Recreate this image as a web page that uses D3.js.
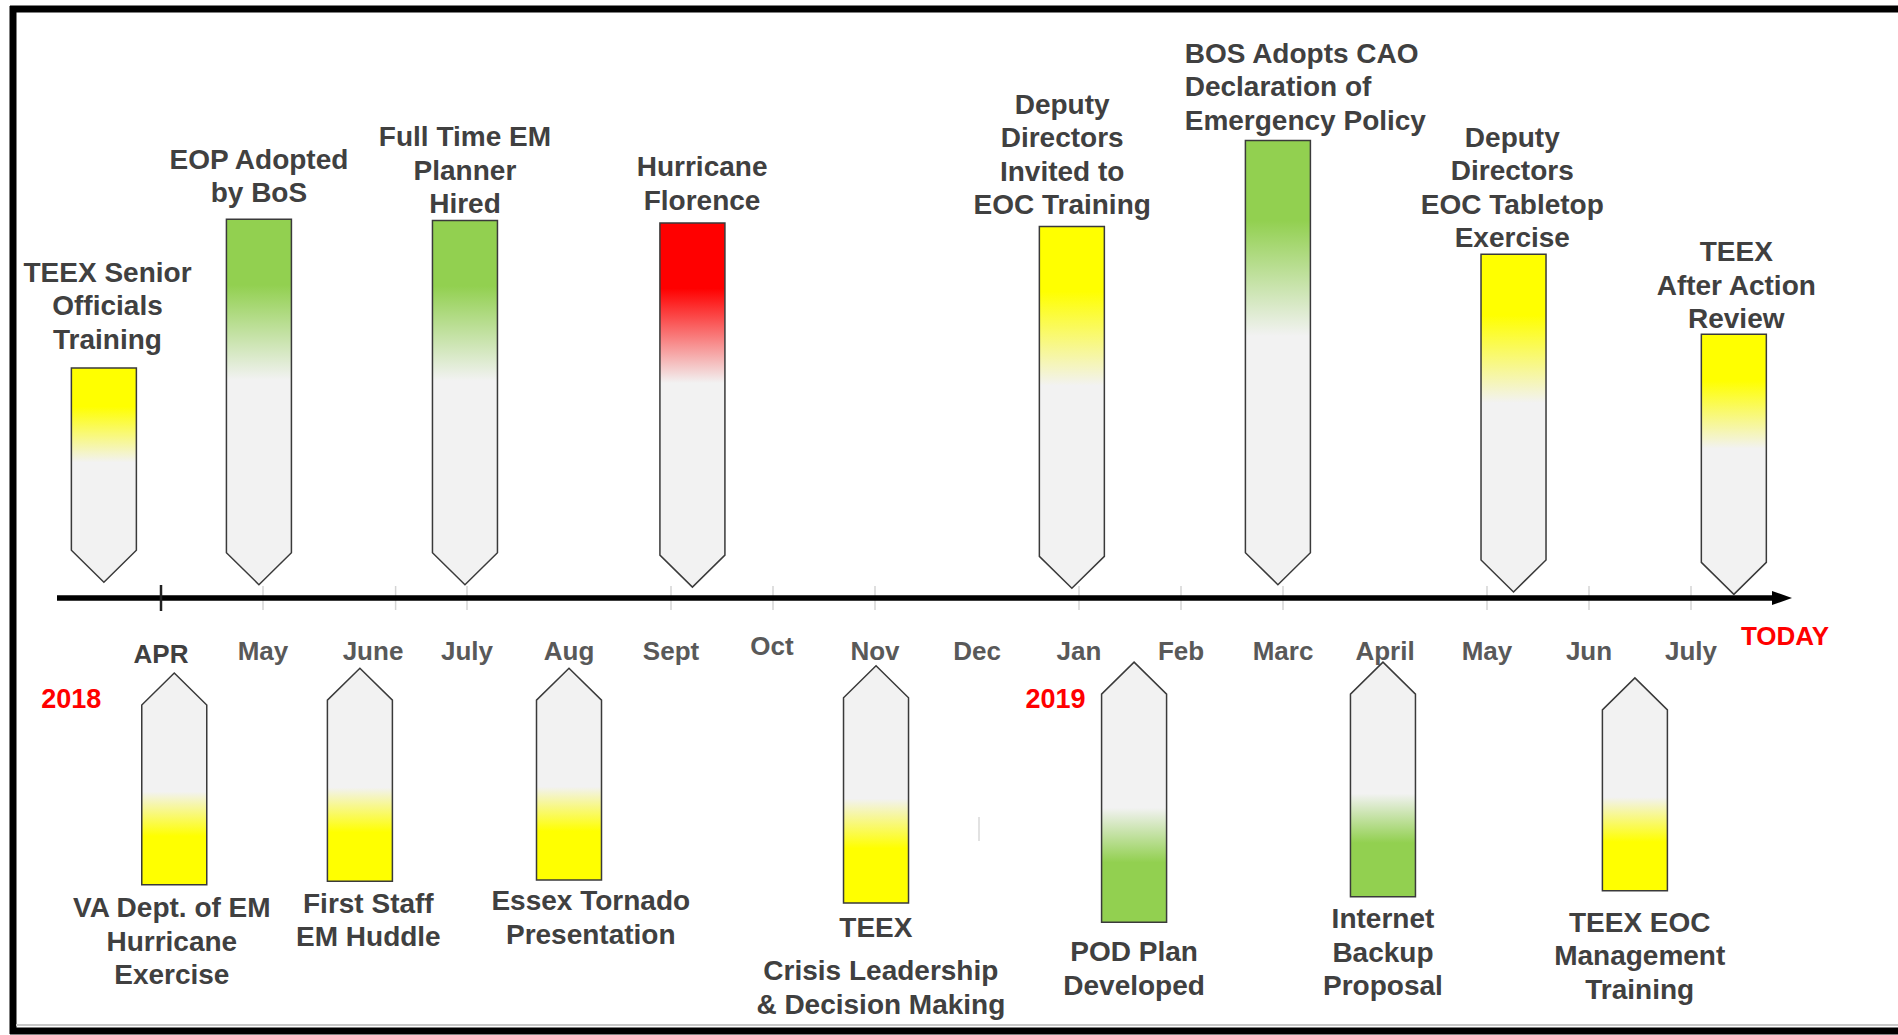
<!DOCTYPE html>
<html>
<head>
<meta charset="utf-8">
<script src="https://cdnjs.cloudflare.com/ajax/libs/d3/7.8.5/d3.min.js"></script>
<style>
	body { margin: 0; background: #fff; }
	text { font-family: "Liberation Sans", Arial, sans-serif; }
</style>
</head>
<body>
<div class="timeline"></div>
<script>
// month labels along the axis (index 0 = April 2018)
var months = ["APR", "May", "June", "July", "Aug", "Sept", "Oct", "Nov", "Dec",
	"Jan", "Feb", "Marc", "April", "May", "Jun", "July"];
var tickMonths = [1, 2.3, 3, 5, 6, 7, 9, 10, 11, 13, 14, 15];
var years = [{label: "2018", month: -0.88}, {label: "2019", month: 8.77}];

// events above the line
var upLabels = [
	["TEEX Senior", "Officials", "Training"],
	["EOP Adopted", "by BoS"],
	["Full Time EM", "Planner", "Hired"],
	["Hurricane", "Florence"],
	["Deputy", "Directors", "Invited to", "EOC Training"],
	["BOS Adopts CAO", "Declaration of", "Emergency Policy"],
	["Deputy", "Directors", "EOC Tabletop", "Exercise"],
	["TEEX", "After Action", "Review"]
];
var upMonth = [-0.56, 0.96, 2.98, 5.21, 8.93, 10.95, 13.26, 15.42];
var upNear = [13, 11, 11, 9, 8, 11, 5, 3];
var upFar = [190, 313, 312, 310, 307, 378, 284, 218];
var upColor = ["yellow", "green", "green", "red", "yellow", "green", "yellow", "yellow"];

// events below the line
var downLabels = [
	["VA Dept. of EM", "Hurricane", "Exercise"],
	["First Staff", "EM Huddle"],
	["Essex Tornado", "Presentation"],
	["TEEX", "Crisis Leadership", "& Decision Making"],
	["POD Plan", "Developed"],
	["Internet", "Backup", "Proposal"],
	["TEEX EOC", "Management", "Training"]
];
var downMonth = [0.13, 1.95, 4.0, 7.01, 9.54, 11.98, 14.45];
var downNear = [62, 58, 58, 56, 53, 53, 66];
var downFar = [237, 234, 233, 252, 268, 247, 242];
var downColor = ["yellow", "yellow", "yellow", "yellow", "green", "green", "yellow"];

// layout tweaks for the labels (dx, gap to box) in picture units
var upLabelPos = [[3, 16], [0, 14], [0, 6], [8, 11], [-8, 10], [-77, 9], [-1, 6], [2, 5]];
var downLabelPos = [[-2, 27], [7, 26], [18, 25], [4, 28], [0, 32], [0, 26], [4, 34]];
var monthShift = {2: 8, 6: -1};

var width = 1898,
	height = 1035,
	k = 1.21,
	axisY = 598,
	boxW = 65,
	notch = 32,
	lineH = 33.5;

var palette = {yellow: "#ffff00", green: "#92d050", red: "#ff0000"};

var x = d3.scaleLinear().domain([0, 15]).range([161, 1691]);
var dist = d3.scaleLinear().domain([0, 100]).range([0, 100 * k]);

var svg = d3.select(".timeline").append("svg")
	.attr("width", width)
	.attr("height", height);

// gradients, one for each colour and direction
var defs = svg.append("defs");
Object.keys(palette).forEach(function(c) {
	var gUp = defs.append("linearGradient")
		.attr("id", "up-" + c)
		.attr("x1", 0).attr("y1", 0).attr("x2", 0).attr("y2", 1);
	gUp.append("stop").attr("offset", 0).attr("stop-color", palette[c]);
	gUp.append("stop").attr("offset", 0.18).attr("stop-color", palette[c]);
	gUp.append("stop").attr("offset", 0.44).attr("stop-color", "#f2f2f2");
	gUp.append("stop").attr("offset", 1).attr("stop-color", "#f2f2f2");

	var gDown = defs.append("linearGradient")
		.attr("id", "down-" + c)
		.attr("x1", 0).attr("y1", 0).attr("x2", 0).attr("y2", 1);
	gDown.append("stop").attr("offset", 0).attr("stop-color", "#f2f2f2");
	gDown.append("stop").attr("offset", 0.56).attr("stop-color", "#f2f2f2");
	gDown.append("stop").attr("offset", 0.77).attr("stop-color", palette[c]);
	gDown.append("stop").attr("offset", 1).attr("stop-color", palette[c]);
});

// frame
svg.append("line")
	.attr("x1", 13).attr("x2", 13).attr("y1", 6).attr("y2", 1034)
	.attr("stroke", "#000").attr("stroke-width", 7);
svg.append("line")
	.attr("x1", 10).attr("x2", width).attr("y1", 9).attr("y2", 9)
	.attr("stroke", "#000").attr("stroke-width", 7);
svg.append("line")
	.attr("x1", 16).attr("x2", width).attr("y1", 1025).attr("y2", 1025)
	.attr("stroke", "#c8c8c8").attr("stroke-width", 2);
svg.append("line")
	.attr("x1", 10).attr("x2", width).attr("y1", 1031).attr("y2", 1031)
	.attr("stroke", "#000").attr("stroke-width", 7);

// light month ticks
svg.selectAll(".tick")
	.data(tickMonths).enter()
	.append("line")
	.attr("class", "tick")
	.attr("x1", function(d) { return x(d); })
	.attr("x2", function(d) { return x(d); })
	.attr("y1", axisY - 12)
	.attr("y2", axisY + 12)
	.attr("stroke", "#d4d4d4")
	.attr("stroke-width", 1.5);

// main axis with arrow
svg.append("line")
	.attr("x1", 57).attr("x2", 1775)
	.attr("y1", axisY).attr("y2", axisY)
	.attr("stroke", "#000").attr("stroke-width", 5.5);
svg.append("path")
	.attr("d", "M1772," + (axisY - 7) + "L1792," + axisY + "L1772," + (axisY + 7) + "Z")
	.attr("fill", "#000");

// dark April tick
svg.append("line")
	.attr("x1", x(0)).attr("x2", x(0))
	.attr("y1", axisY - 13).attr("y2", axisY + 13)
	.attr("stroke", "#222").attr("stroke-width", 2.5);

// stray mark near Dec
svg.append("line")
	.attr("x1", 979).attr("x2", 979).attr("y1", 817).attr("y2", 841)
	.attr("stroke", "#d9d9d9").attr("stroke-width", 1.5);

// month labels
svg.selectAll(".month")
	.data(months).enter()
	.append("text")
	.attr("class", "month")
	.attr("x", function(d, i) { return x(i) + (monthShift[i] || 0); })
	.attr("y", function(d, i) { return i == 0 ? 663 : (i == 6 ? 655 : 660); })
	.attr("text-anchor", "middle")
	.attr("font-size", 26)
	.attr("font-weight", "bold")
	.attr("fill", function(d, i) { return i == 0 ? "#404040" : "#595959"; })
	.text(function(d) { return d; });

svg.append("text")
	.attr("x", 1785).attr("y", 645)
	.attr("text-anchor", "middle")
	.attr("font-size", 26)
	.attr("font-weight", "bold")
	.attr("fill", "#ff0000")
	.text("TODAY");

svg.selectAll(".year")
	.data(years).enter()
	.append("text")
	.attr("class", "year")
	.attr("x", function(d) { return x(d.month); })
	.attr("y", 708)
	.attr("text-anchor", "middle")
	.attr("font-size", 27)
	.attr("font-weight", "bold")
	.attr("fill", "#ff0000")
	.text(function(d) { return d.label; });

// callouts above the line (point down)
upMonth.forEach(function(m, i) {
	var cx = x(m),
		tip = axisY - dist(upNear[i]),
		top = axisY - dist(upFar[i]),
		w = boxW / 2;

	svg.append("path")
		.attr("d", "M" + (cx - w) + "," + top + "L" + (cx + w) + "," + top +
			"L" + (cx + w) + "," + (tip - notch) + "L" + cx + "," + tip +
			"L" + (cx - w) + "," + (tip - notch) + "Z")
		.attr("fill", "url(#up-" + upColor[i] + ")")
		.attr("stroke", "#3a3a3a")
		.attr("stroke-width", 1.5);

	var lines = upLabels[i],
		lx = cx + upLabelPos[i][0] * k,
		last = top - upLabelPos[i][1] * k;

	svg.append("g").selectAll("text")
		.data(lines).enter()
		.append("text")
		.attr("x", lx)
		.attr("y", function(d, j) { return last - (lines.length - 1 - j) * lineH; })
		.attr("text-anchor", i == 5 ? "start" : "middle")
		.attr("font-size", 28)
		.attr("font-weight", "bold")
		.attr("fill", "#404040")
		.text(function(d) { return d; });
});

// callouts below the line (point up)
downMonth.forEach(function(m, i) {
	var cx = x(m),
		tip = axisY + dist(downNear[i]),
		bot = axisY + dist(downFar[i]),
		w = boxW / 2;

	svg.append("path")
		.attr("d", "M" + cx + "," + tip + "L" + (cx + w) + "," + (tip + notch) +
			"L" + (cx + w) + "," + bot + "L" + (cx - w) + "," + bot +
			"L" + (cx - w) + "," + (tip + notch) + "Z")
		.attr("fill", "url(#down-" + downColor[i] + ")")
		.attr("stroke", "#3a3a3a")
		.attr("stroke-width", 1.5);

	var lines = downLabels[i],
		lx = cx + downLabelPos[i][0] * k,
		first = bot + downLabelPos[i][1] * k;

	svg.append("g").selectAll("text")
		.data(lines).enter()
		.append("text")
		.attr("x", function(d, j) { return (i == 3 && j == 0) ? lx - 5 : lx; })
		.attr("y", function(d, j) {
			// the TEEX crisis label has a wider gap after its first line
			var extra = (i == 3 && j > 0) ? 10 : 0;
			return first + j * lineH + extra;
		})
		.attr("text-anchor", "middle")
		.attr("font-size", 28)
		.attr("font-weight", "bold")
		.attr("fill", "#404040")
		.text(function(d) { return d; });
});
</script>
</body>
</html>
